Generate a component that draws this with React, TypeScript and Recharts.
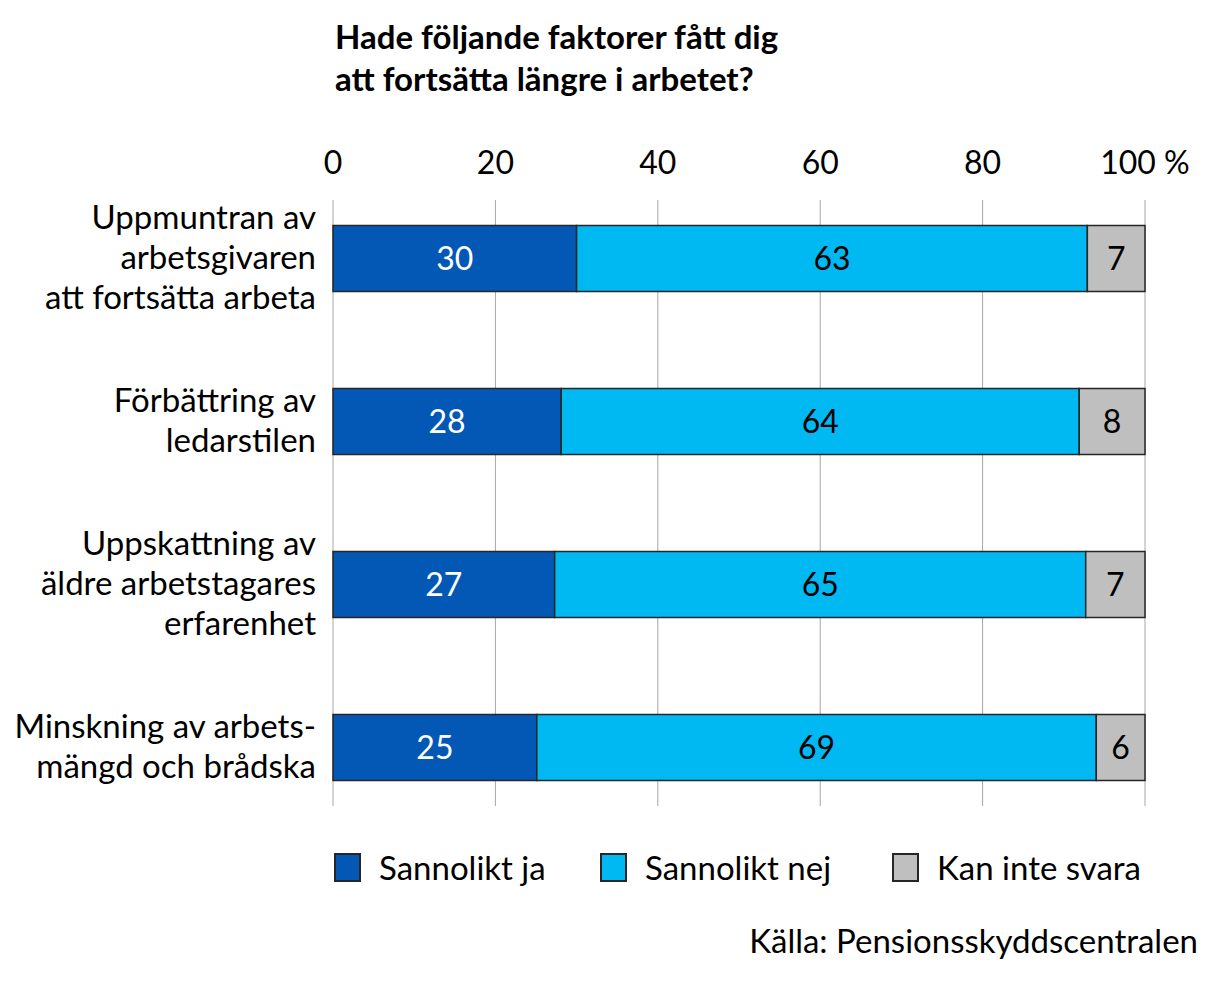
import React from 'react';
import { BarChart, Bar, XAxis, YAxis, CartesianGrid, LabelList } from 'recharts';

const categories = [
  'Uppmuntran av\narbetsgivaren\natt fortsätta arbeta',
  'Förbättring av\nledarstilen',
  'Uppskattning av\näldre arbetstagares\nerfarenhet',
  'Minskning av arbets-\nmängd och brådska',
];
// bar lengths; labels show rounded values
const sannoliktJa = [30.0, 28.1, 27.3, 25.1];
const sannoliktNej = [62.9, 63.8, 65.4, 68.9];
const kanInteSvara = [7.1, 8.1, 7.3, 6.0];
const xTicks = [0, 20, 40, 60, 80, 100];

const seriesInfo = [
  { key: 'ja', name: 'Sannolikt ja', color: '#0458B5', labelColor: '#ffffff' },
  { key: 'nej', name: 'Sannolikt nej', color: '#00B9F2', labelColor: '#000000' },
  { key: 'kan', name: 'Kan inte svara', color: '#BFBFBF', labelColor: '#000000' },
];

const data = categories.map((c, i) => ({
  category: c,
  ja: sannoliktJa[i],
  nej: sannoliktNej[i],
  kan: kanInteSvara[i],
}));

const FONT = 'Lato, "Open Sans", sans-serif';
const outline = '#262626';

function CategoryTick(props: any) {
  const { x, y, payload } = props;
  const lines = String(payload.value).split('\n');
  const lh = 40;
  const start = y - ((lines.length - 1) * lh) / 2;
  return (
    <g>
      {lines.map((l, i) => (
        <text
          key={i}
          x={x}
          y={start + i * lh}
          dy={11}
          textAnchor="end"
          fontSize={33}
          fontFamily={FONT}
          fill="#000"
        >
          {l}
        </text>
      ))}
    </g>
  );
}

export default function App() {
  const legendX = [334, 600, 892];
  return (
    <div style={{ position: 'absolute', left: 0, top: 0, width: 1232, height: 982, background: '#fff', fontFamily: FONT }}>
      <div style={{ position: 'absolute', left: 335, top: 15, fontSize: 33, fontWeight: 700, lineHeight: '42px', color: '#000' }}>
        Hade följande faktorer fått dig
        <br />
        att fortsätta längre i arbetet?
      </div>
      <BarChart
        width={1232}
        height={982}
        data={data}
        layout="vertical"
        margin={{ top: 136.5, right: 87, bottom: 153.5, left: 0 }}
      >
        <CartesianGrid horizontal={false} stroke="#A6A6A6" strokeWidth={1} y={200} height={606} />
        <XAxis
          type="number"
          orientation="top"
          domain={[0, 100]}
          ticks={xTicks}
          height={40}
          axisLine={false}
          tickLine={false}
          tickMargin={-3}
          interval={0}
          tickFormatter={(v: number) => (v === 100 ? '100 %' : String(v))}
          tick={{ fill: '#000', fontSize: 32, fontFamily: FONT }}
        />
        <YAxis
          type="category"
          dataKey="category"
          width={333}
          axisLine={false}
          tickLine={false}
          tick={<CategoryTick />}
          tickMargin={11}
          interval={0}
        />
        {seriesInfo.map((s) => (
          <Bar
            key={s.key}
            dataKey={s.key}
            name={s.name}
            stackId="a"
            fill={s.color}
            stroke={outline}
            strokeWidth={1.5}
            barSize={66}
            isAnimationActive={false}
          >
            <LabelList
              dataKey={s.key}
              position="center"
              fill={s.labelColor}
              fontSize={32}
              fontFamily={FONT}
              formatter={(v: any) => Math.round(Number(v))}
            />
          </Bar>
        ))}
      </BarChart>
      {seriesInfo.map((s, i) => (
        <div key={s.key} style={{ position: 'absolute', left: legendX[i], top: 851, display: 'flex', alignItems: 'center' }}>
          <div style={{ width: 27, height: 29, background: s.color, border: `2px solid ${outline}`, boxSizing: 'border-box' }} />
          <span style={{ marginLeft: 18, fontSize: 33, color: '#000', lineHeight: '32px' }}>{s.name}</span>
        </div>
      ))}
      <div style={{ position: 'absolute', right: 34, top: 920, fontSize: 33, color: '#000', lineHeight: '40px' }}>
        Källa: Pensionsskyddscentralen
      </div>
    </div>
  );
}
